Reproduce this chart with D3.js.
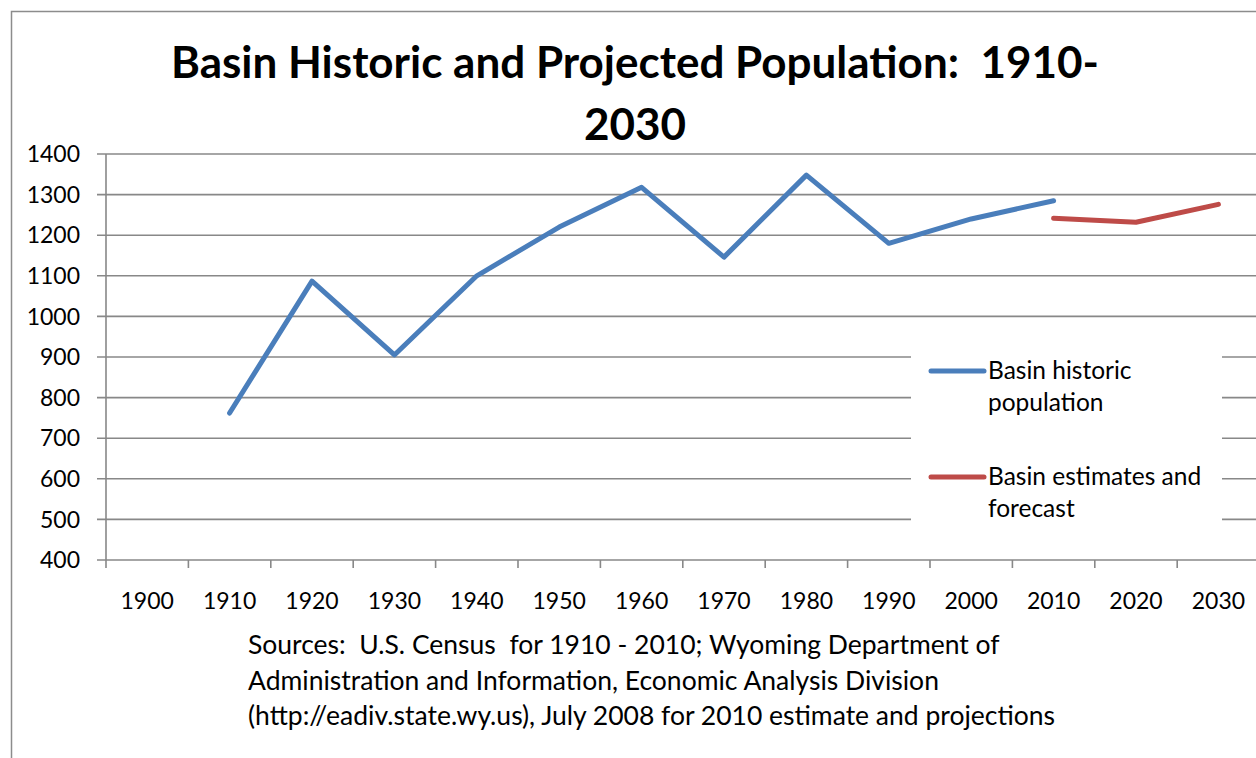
<!DOCTYPE html>
<html>
<head>
<meta charset="utf-8">
<script src="https://cdn.jsdelivr.net/npm/d3@7"></script>
<style>
  body { margin: 0; background: #fff; }
  text { font-family: Lato, "Open Sans", sans-serif; fill: #000; }
</style>
</head>
<body>
<div id="chart"></div>
<script>
const width = 1256;
const height = 758;

// DATA
const years = ["1900", "1910", "1920", "1930", "1940", "1950", "1960", "1970", "1980", "1990", "2000", "2010", "2020", "2030"];
const historicYears = ["1910", "1920", "1930", "1940", "1950", "1960", "1970", "1980", "1990", "2000", "2010"];
const historicValues = [762, 1087, 905, 1100, 1220, 1318, 1146, 1348, 1180, 1240, 1285];
const forecastYears = ["2010", "2020", "2030"];
const forecastValues = [1242, 1232, 1276];
const yTicks = [400, 500, 600, 700, 800, 900, 1000, 1100, 1200, 1300, 1400];
const seriesNames = ["Basin historic population", "Basin estimates and forecast"];
const seriesLabelLines = [["Basin historic", "population"], ["Basin estimates and", "forecast"]];
const seriesColors = ["#4a7ebb", "#be4b48"];
const titleLines = ["Basin Historic and Projected Population:  1910-", "2030"];
const sourceLines = [
  "Sources:  U.S. Census  for 1910 - 2010; Wyoming Department of",
  "Administration and Information, Economic Analysis Division",
  "(http://eadiv.state.wy.us), July 2008 for 2010 estimate and projections"
];

// SCALES
const plotLeft = 106, plotTop = 154, plotBottom = 560;
const step = 82.4;

const xScale = d3.scaleBand()
  .domain(years)
  .range([plotLeft, plotLeft + step * years.length]);

const yScale = d3.scaleLinear()
  .domain([400, 1400])
  .range([plotBottom, plotTop]);

const cx = d => xScale(d) + xScale.bandwidth() / 2;

const svg = d3.select("#chart")
  .append("svg")
  .attr("width", width)
  .attr("height", height);

// outer chart border
svg.append("path")
  .attr("d", `M11.5,${height} V11.5 H${width}`)
  .attr("fill", "none")
  .attr("stroke", "#8c8c8c")
  .attr("stroke-width", 1.5);

// title
svg.append("g")
  .selectAll("text")
  .data(titleLines)
  .join("text")
  .attr("x", 635)
  .attr("y", (d, i) => 78 + i * 62)
  .attr("text-anchor", "middle")
  .attr("font-size", 44)
  .attr("font-weight", "bold")
  .style("white-space", "pre")
  .text(d => d);

// gridlines
svg.append("g")
  .selectAll("line")
  .data(yTicks)
  .join("line")
  .attr("x1", plotLeft - 9)
  .attr("x2", width)
  .attr("y1", d => yScale(d))
  .attr("y2", d => yScale(d))
  .attr("stroke", "#888")
  .attr("stroke-width", 1.6);

// y axis line
svg.append("line")
  .attr("x1", plotLeft).attr("x2", plotLeft)
  .attr("y1", plotTop).attr("y2", plotBottom + 8)
  .attr("stroke", "#888")
  .attr("stroke-width", 1.6);

// x ticks between categories
svg.append("g")
  .selectAll("line")
  .data(years.slice(1))
  .join("line")
  .attr("x1", d => xScale(d))
  .attr("x2", d => xScale(d))
  .attr("y1", plotBottom)
  .attr("y2", plotBottom + 8)
  .attr("stroke", "#888")
  .attr("stroke-width", 1.6);

// y labels
svg.append("g")
  .selectAll("text")
  .data(yTicks)
  .join("text")
  .attr("x", 80)
  .attr("y", d => yScale(d))
  .attr("dy", "0.36em")
  .attr("text-anchor", "end")
  .attr("font-size", 23)
  .text(d => d);

// x labels
svg.append("g")
  .selectAll("text")
  .data(years)
  .join("text")
  .attr("x", d => cx(d))
  .attr("y", 609)
  .attr("text-anchor", "middle")
  .attr("font-size", 23)
  .text(d => d);

// lines
const line = d3.line()
  .x(d => cx(d[0]))
  .y(d => yScale(d[1]));

const series = [
  d3.zip(historicYears, historicValues),
  d3.zip(forecastYears, forecastValues)
];

svg.append("g")
  .selectAll("path")
  .data(series)
  .join("path")
  .attr("d", line)
  .attr("fill", "none")
  .attr("stroke", (d, i) => seriesColors[i])
  .attr("stroke-width", 5)
  .attr("stroke-linecap", "round")
  .attr("stroke-linejoin", "round");

// legend
const legend = svg.append("g");
legend.append("rect")
  .attr("x", 911)
  .attr("y", 330)
  .attr("width", 311)
  .attr("height", 212)
  .attr("fill", "#fff");

const items = legend.selectAll("g")
  .data(seriesNames)
  .join("g")
  .attr("transform", (d, i) => `translate(0, ${371 + i * 106})`);

items.append("line")
  .attr("x1", 931).attr("x2", 984)
  .attr("y1", 0).attr("y2", 0)
  .attr("stroke", (d, i) => seriesColors[i])
  .attr("stroke-width", 5)
  .attr("stroke-linecap", "round");

items.each(function (d, i) {
  d3.select(this).selectAll("text")
    .data(seriesLabelLines[i])
    .join("text")
    .attr("x", 988)
    .attr("y", (t, j) => 8 + j * 32)
    .attr("font-size", 24.5)
    .text(t => t);
});

// sources note
svg.append("g")
  .selectAll("text")
  .data(sourceLines)
  .join("text")
  .attr("x", 248)
  .attr("y", (d, i) => 654 + i * 35.5)
  .attr("font-size", 26.5)
  .style("white-space", "pre")
  .text(d => d);
</script>
</body>
</html>
